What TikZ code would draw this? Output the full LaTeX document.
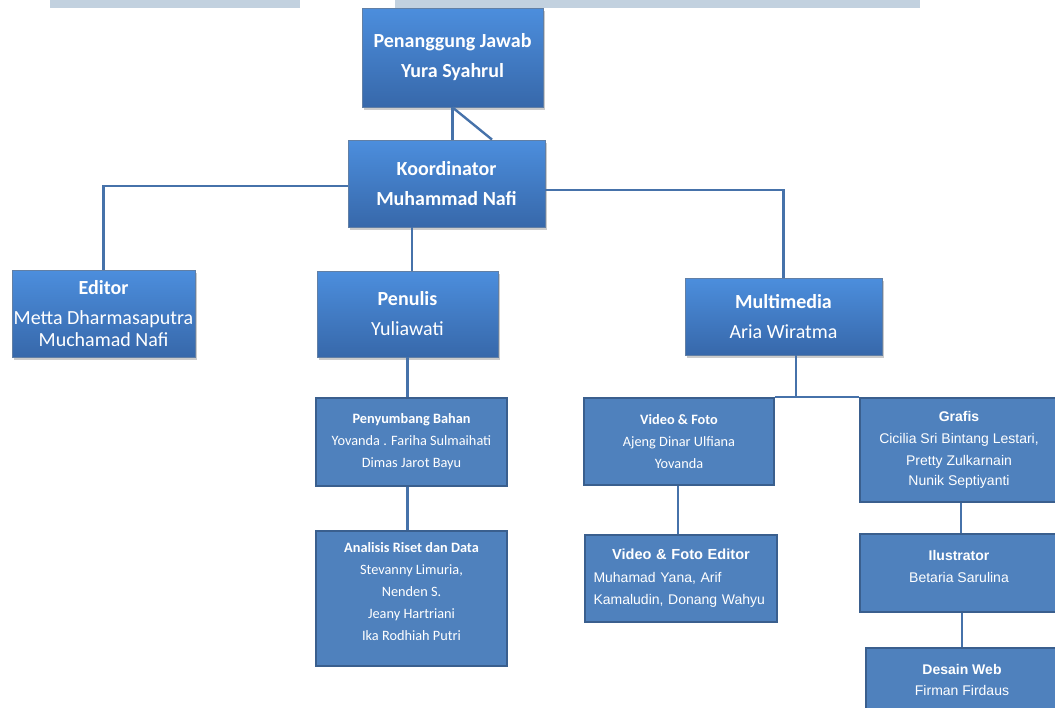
\documentclass[tikz,border=0pt]{standalone}
\usepackage{fontspec}
\setmainfont{Carlito}
\newfontfamily\arialfont{Liberation Sans}
\usepackage{tikz}
\usetikzlibrary{shadows}
\usetikzlibrary{positioning}
\usetikzlibrary{calc}

\definecolor{topblue}{HTML}{4C8EDD}
\definecolor{botblue}{HTML}{3768AA}
\definecolor{boxblue}{HTML}{4F81BD}
\definecolor{edgeblue}{HTML}{3A5F8E}
\definecolor{linkblue}{HTML}{4672AA}
\definecolor{barblue}{HTML}{C2D1DF}

\begin{document}
\begin{tikzpicture}[x=1pt, y=-1pt,
  headbox/.style={draw=edgeblue!80, line width=0.8, top color=topblue, bottom color=botblue,
    drop shadow={shadow xshift=2pt, shadow yshift=-2.5pt, fill=black!45, opacity=0.45},
    text=white, align=center, inner sep=0pt, font=\fontsize{20}{30}\selectfont},
  flatbox/.style={draw=edgeblue, line width=2, fill=boxblue, text=white, align=center,
    inner sep=0pt, font=\fontsize{14.3}{22}\selectfont},
  arialbox/.style={flatbox, font=\arialfont\fontsize{14}{22}\selectfont},
  link/.style={draw=linkblue, line width=2.4}]

  \useasboundingbox (0,0) rectangle (1055,707);
  \clip (0,0) rectangle (1055,707);

  %top bars
  \fill[barblue] (50,0) rectangle (300,8);
  \fill[barblue] (395,0) rectangle (920,8);

  %head boxes
  \node[headbox, minimum width=181, minimum height=99] (pj) at (452.5,57.5)
    {\bfseries Penanggung Jawab\\\bfseries Yura Syahrul};
  \node[headbox, minimum width=197, minimum height=87] (koord) at (446.5,183.5)
    {\bfseries Koordinator\\\bfseries Muhammad Nafi};
  \node[headbox, minimum width=183, minimum height=87] (editor) at (103.5,313.5)
    {\bfseries Editor\\Metta Dharmasaputra\\[-8pt]Muchamad Nafi};
  \node[headbox, minimum width=181, minimum height=86] (penulis) at (407.5,314)
    {\bfseries Penulis\\Yuliawati};
  \node[headbox, minimum width=197, minimum height=77] (multimedia) at (783.5,316.5)
    {\bfseries Multimedia\\Aria Wiratma};

  %lower boxes
  \node[flatbox, minimum width=191, minimum height=88] (penyumbang) at (411.5,442)
    {\textbf{Penyumbang Bahan}\\Yovanda . Fariha Sulmaihati\\Dimas Jarot Bayu};
  \node[flatbox, minimum width=191, minimum height=135] (analisis) at (411.5,598.5)
    {\textbf{Analisis Riset dan Data}\\Stevanny Limuria,\\Nenden S.\\Jeany Hartriani\\Ika Rodhiah Putri\\[-8pt]\mbox{}};
  \node[flatbox, minimum width=190, minimum height=87] (vidfoto) at (679,441.5)
    {\textbf{Video \& Foto}\\Ajeng Dinar Ulfiana\\Yovanda};
  \node[arialbox, minimum width=192, minimum height=87, text width=175, align=left] (vfeditor) at (681,578.5)
    {\makebox[175pt]{\fontsize{14.6}{22}\selectfont\textbf{Video \& Foto Editor}}\\[1pt]Muhamad Yana, Arif\\Kamaludin, Donang Wahyu};
  \node[arialbox, minimum width=198, minimum height=104] (grafis) at (959,450)
    {\textbf{Grafis}\\Cicilia Sri Bintang Lestari,\\Pretty Zulkarnain\\[-2pt]Nunik Septiyanti};
  \node[arialbox, minimum width=198, minimum height=78] (ilustrator) at (959,573)
    {\textbf{Ilustrator}\\Betaria Sarulina\\[-9pt]\mbox{}};
  \node[arialbox, minimum width=192, minimum height=64] (desainweb) at (962,680)
    {\textbf{Desain Web}\\[-1pt]Firman Firdaus};

  %connectors
  \coordinate (koordtop) at ($(koord.north)+(45.5,0)$);
  \coordinate (mmjoin) at (796,398);
  \draw[link] (pj.south) -- (pj.south |- koord.north);
  \draw[link] (pj.south) -- (koordtop);
  \draw[link] ([yshift=-2.5]koord.west) -| (editor.north);
  \draw[link] ([yshift=-6.5]koord.east) -| (multimedia.north);
  \draw[link] (koord.south -| 412,0) -- (penulis.north -| 412,0);
  \draw[link] (penulis.south) -- (penulis.south |- penyumbang.north);
  \draw[link] (penulis.south |- penyumbang.south) -- (penulis.south |- analisis.north);
  \draw[link] (multimedia.south -| mmjoin) -- (mmjoin);
  \draw[link] (vidfoto.north east) -- (grafis.north west);
  \draw[link] (vidfoto.south -| 678,0) -- (vfeditor.north -| 678,0);
  \draw[link] (grafis.south -| 961,0) -- (ilustrator.north -| 961,0);
  \draw[link] (ilustrator.south -| 962,0) -- (desainweb.north -| 962,0);

\end{tikzpicture}
\end{document}
